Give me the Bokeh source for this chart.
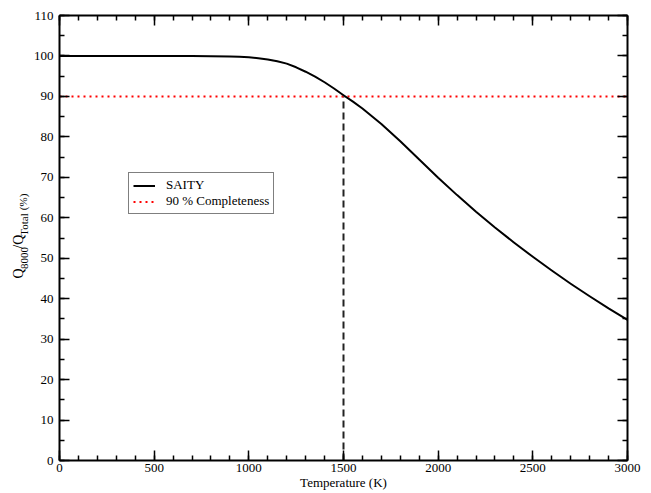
from math import pi
from bokeh.plotting import figure
from bokeh.layouts import row
from bokeh.models import (Range1d, LinearAxis, FixedTicker, Legend, LegendItem,
                          CustomJSTickFormatter)
from bokeh.core.properties import value
from bokeh.embed import file_html
from bokeh.resources import INLINE

# ---- data ----
temperature = [0, 100, 200, 300, 400, 500, 600, 700, 800, 900, 950, 1000,
               1050, 1100, 1150, 1200, 1250, 1300, 1350, 1400, 1450, 1500,
               1550, 1600, 1700, 1800, 1900, 2000,
               2100, 2200, 2300, 2400, 2500, 2600, 2700, 2800, 2900, 3000]
q_ratio = [100.0, 100.0, 100.0, 100.0, 100.0, 100.0, 100.0, 99.98, 99.93, 99.85, 99.78, 99.65,
           99.45, 99.15, 98.7, 98.1, 97.2, 96.1, 94.9, 93.5, 91.95, 90.3,
           88.7, 87.0, 83.2, 78.9, 74.4, 69.9,
           65.6, 61.5, 57.6, 53.9, 50.35, 46.95, 43.7, 40.6, 37.6, 34.75]
completeness_level = 90
threshold_temperature = 1500
x_major_ticks = [0, 500, 1000, 1500, 2000, 2500, 3000]
x_minor_ticks = list(range(0, 3001, 100))
y_major_ticks = [0, 10, 20, 30, 40, 50, 60, 70, 80, 90, 100, 110]
y_minor_ticks = list(range(0, 111, 5))
legend_labels = ["SAITY", "90 % Completeness"]
x_title = "Temperature (K)"
y_title_parts = ["Q", "8000", "/Q", "Total", "(%)"]
y_title_kind = ["main", "sub", "main", "sub", "unit"]

FONT = "Liberation Serif"

# ---------------- main plot ----------------
p = figure(width=621, height=493,
           x_range=Range1d(0, 3000), y_range=Range1d(0, 110),
           output_backend="svg", toolbar_location=None,
           x_axis_location=None, y_axis_location=None,
           min_border_left=29, min_border_right=24,
           min_border_top=15, min_border_bottom=33)
p.xgrid.visible = False
p.ygrid.visible = False
p.outline_line_color = None


def style_axis(ax, ticks, minor, show_labels, standoff):
    ax.ticker = FixedTicker(ticks=ticks, minor_ticks=minor)
    ax.axis_line_color = "black"
    ax.axis_line_width = 2
    ax.major_tick_line_color = "black"
    ax.major_tick_line_width = 1.5
    ax.minor_tick_line_color = "black"
    ax.minor_tick_line_width = 1.5
    ax.major_tick_in = 10
    ax.major_tick_out = 0
    ax.minor_tick_in = 5
    ax.minor_tick_out = 0
    ax.major_label_text_font = FONT
    ax.major_label_text_color = "black"
    ax.major_label_standoff = standoff
    if show_labels:
        ax.major_label_text_font_size = "13px"
    else:
        ax.formatter = CustomJSTickFormatter(code="return ''")
        ax.major_label_text_font_size = "0px"


xb = LinearAxis(axis_label=x_title)
style_axis(xb, x_major_ticks, x_minor_ticks, True, 3)
xb.axis_label_text_font = FONT
xb.axis_label_text_font_size = "13px"
xb.axis_label_text_font_style = "normal"
xb.axis_label_text_color = "black"
xb.axis_label_standoff = 0
yl = LinearAxis(); style_axis(yl, y_major_ticks, y_minor_ticks, True, 6)
xt = LinearAxis(); style_axis(xt, x_major_ticks, x_minor_ticks, False, 0)
yr = LinearAxis(); style_axis(yr, y_major_ticks, y_minor_ticks, False, 0)
p.add_layout(xb, "below")
p.add_layout(yl, "left")
p.add_layout(xt, "above")
p.add_layout(yr, "right")

# vertical dashed line at the threshold temperature
p.segment(x0=[threshold_temperature], y0=[0], x1=[threshold_temperature],
          y1=[completeness_level], line_color="#222222", line_width=2,
          line_dash="7 4")
# 90 % completeness line
r_red = p.line(x=[x_major_ticks[0], x_major_ticks[-1]],
               y=[completeness_level, completeness_level],
               line_color="red", line_width=2, line_dash="2 4")
# main curve
r_curve = p.line(x=temperature, y=q_ratio, line_color="black", line_width=2,
                 line_join="round")

legend = Legend(items=[LegendItem(label=legend_labels[0], renderers=[r_curve]),
                       LegendItem(label=legend_labels[1], renderers=[r_red])],
                location=(69, 246))
legend.label_text_font = FONT
legend.label_text_font_size = "13px"
legend.label_text_color = "black"
legend.border_line_color = "black"
legend.border_line_width = 1
legend.background_fill_color = "white"
legend.background_fill_alpha = 1
legend.padding = 4
legend.spacing = 0
legend.margin = 0
legend.glyph_width = 22
legend.glyph_height = 15
legend.label_height = 15
legend.label_standoff = 11
p.add_layout(legend, "center")

# ---------------- y title strip (rotated text with subscripts) ----------------
pt = figure(width=30, height=493, x_range=Range1d(0, 30), y_range=Range1d(0, 493),
            output_backend="svg", toolbar_location=None,
            x_axis_location=None, y_axis_location=None, min_border=0)
pt.xgrid.visible = False
pt.ygrid.visible = False
pt.outline_line_color = None

kind_size = {"main": 14, "sub": 11, "unit": 11}
kind_x = {"main": 18.0, "sub": 23.5, "unit": 22.5}
kind_gap = {"main": 0.5, "sub": 0.5, "unit": 5.0}
char_w = {"Q": 0.722, "8": 0.5, "0": 0.5, "/": 0.278, "T": 0.611, "o": 0.5,
          "t": 0.278, "a": 0.444, "l": 0.278, " ": 0.25, "(": 0.333,
          "%": 0.833, ")": 0.333}
ypos = 201.0
for part, kind in zip(y_title_parts, y_title_kind):
    size = kind_size[kind]
    ypos += kind_gap[kind]
    pt.text(x=[kind_x[kind]], y=[ypos], text=[part], angle=pi / 2,
            text_font=value(FONT), text_font_size=f"{size}px",
            text_color="black", text_align="left", text_baseline="alphabetic")
    ypos += sum(char_w.get(c, 0.5) for c in part) * size

layout = row(pt, p)
open("out.html", "w").write(file_html(layout, INLINE))
